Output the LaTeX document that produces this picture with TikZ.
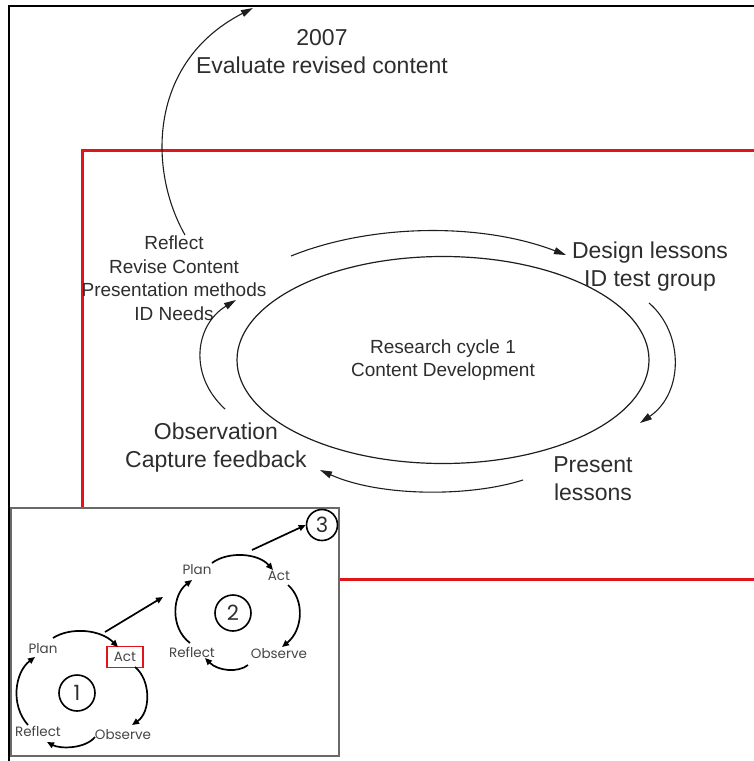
\documentclass[tikz,border=0pt]{standalone}
\usepackage{fontspec}
\setmainfont{Liberation Sans}
\newfontfamily\insetfont{Poppins}
\usepackage{tikz}
\usepackage{xcolor}
\usetikzlibrary{shapes.geometric, arrows.meta, positioning}
\definecolor{cRed}{RGB}{225,20,25}
\definecolor{cText}{RGB}{45,45,45}
\definecolor{cLine}{RGB}{30,30,30}
\definecolor{cFrame}{RGB}{105,105,105}
\definecolor{cStep}{RGB}{70,70,70}
\tikzset{
	biglbl/.style  ={align=center, text=cText, inner sep=0pt, font=\fontsize{23}{28}\selectfont},
	midlbl/.style  ={align=center, text=cText, inner sep=0pt, font=\fontsize{19}{23.5}\selectfont},
	cycle/.style   ={ellipse, draw=cLine, line width=1.2pt, minimum width=412pt, minimum height=207pt, align=center, text=cText, font=\fontsize{19}{23}\selectfont},
	flow/.style    ={-{Triangle[length=12pt,width=7pt]}, line width=1.1pt, draw=cLine},
	% small action-research cycles in the inset
	steplbl/.style ={text=cStep, inner sep=1pt, font=\insetfont\fontsize{13.5}{14}\selectfont},
	loopar/.style  ={-{Triangle[length=7pt,width=6pt]}, line width=1.7pt, draw=black},
	numc/.style    ={circle, draw=black, line width=1.6pt, minimum size=36pt, inner sep=0pt, text=cText, font=\insetfont\fontsize{21}{21}\selectfont},
}
\begin{document}
\begin{tikzpicture}[x=1pt, y=-1pt]
	\useasboundingbox (0,0) rectangle (754,761);
	% outer frame and red frame
	\draw[line width=2.4pt] (754,5.7) -- (8.7,5.7) -- (8.7,761);
	\draw[cRed, line width=3pt] (756,150) -- (82,150) -- (82,579) -- (756,579);
	% central cycle
	\node[cycle] (cyc) at (443,360) {Research cycle 1\\Content Development};
	\node[biglbl] (goal) at (322,52) {2007\\Evaluate revised content};
	\node[biglbl] (design) at (650,267) {Design lessons\\ID test group};
	\node[biglbl] (present) at (593,479) {Present\\lessons};
	\node[biglbl] (observe) at (216,448) {Observation\\Capture feedback};
	\node[midlbl] (reflect) at (174,278) {Reflect\\Revise Content\\Presentation methods\\ID Needs};
	% arrow ends
	\coordinate (tA) at (291,256);  \coordinate (tB) at (566,255);
	\coordinate (rA) at (649,303);  \coordinate (rB) at (640,423);
	\coordinate (bA) at (523,480);  \coordinate (bB) at (320,470);
	\coordinate (lA) at (225,409);  \coordinate (lB) at (236,300);
	\coordinate (gA) at (185,235);  \coordinate (gB) at (253,8);
	\draw[flow] (tA) .. controls (370,224) and (480,222) .. (tB);
	\draw[flow] (rA) .. controls (684,333) and (684,393) .. (rB);
	\draw[flow] (bA) .. controls (470,497) and (380,497) .. (bB);
	\draw[flow] (lA) .. controls (188,375) and (195,325) .. (lB);
	\draw[flow] (gA) .. controls (148,170) and (148,62) .. (gB);
	% inset
	\filldraw[fill=white, draw=cFrame, line width=1.5pt] (11,508) rectangle (339,756);
	% cycle 1
	\node[steplbl] (plan1) at (43,649) {Plan};
	\node[steplbl, draw=cRed, line width=1.2pt, minimum width=36pt, minimum height=21pt] (act1) at (125,657) {Act};
	\node[steplbl] (refl1) at (38,731) {Reflect};
	\node[steplbl] (obs1) at (123,735) {Observe};
	\node[numc] (num1) at (77,693) {1};
	\coordinate (p1a) at (53,638);  \coordinate (p1b) at (118,647);
	\coordinate (a1a) at (135,667); \coordinate (a1b) at (132,725);
	\coordinate (o1a) at (95,737);  \coordinate (o1b) at (47,742);
	\coordinate (r1a) at (28,725);  \coordinate (r1b) at (35,657);
	\draw[loopar] (p1a) .. controls (70,627) and (100,629) .. (p1b);
	\draw[loopar] (a1a) .. controls (151,680) and (151,712) .. (a1b);
	\draw[loopar] (o1a) .. controls (85,749) and (60,749) .. (o1b);
	\draw[loopar] (r1a) .. controls (10,705) and (15,672) .. (r1b);
	% cycle 2
	\node[steplbl] (plan2) at (197,570) {Plan};
	\node[steplbl] (act2) at (279,576) {Act};
	\node[steplbl] (refl2) at (192,652) {Reflect};
	\node[steplbl] (obs2) at (279,654) {Observe};
	\node[numc] (num2) at (233,613) {2};
	\coordinate (p2a) at (212,563); \coordinate (p2b) at (273,570);
	\coordinate (a2a) at (288,585); \coordinate (a2b) at (282,647);
	\coordinate (o2a) at (248,665); \coordinate (o2b) at (205,658);
	\coordinate (r2a) at (190,643); \coordinate (r2b) at (192,580);
	\draw[loopar] (p2a) .. controls (228,551) and (258,553) .. (p2b);
	\draw[loopar] (a2a) .. controls (305,600) and (303,630) .. (a2b);
	\draw[loopar] (o2a) .. controls (238,673) and (218,671) .. (o2b);
	\draw[loopar] (r2a) .. controls (170,628) and (172,595) .. (r2b);
	% cycle 3 and the steps between cycles
	\node[numc, minimum size=31pt] (num3) at (322,525) {3};
	\coordinate (s1a) at (105,632); \coordinate (s1b) at (163,597);
	\coordinate (s2a) at (252,550);
	\draw[loopar] (s1a) -- (s1b);
	\draw[loopar] (s2a) -- (num3.west);
\end{tikzpicture}
\end{document}
